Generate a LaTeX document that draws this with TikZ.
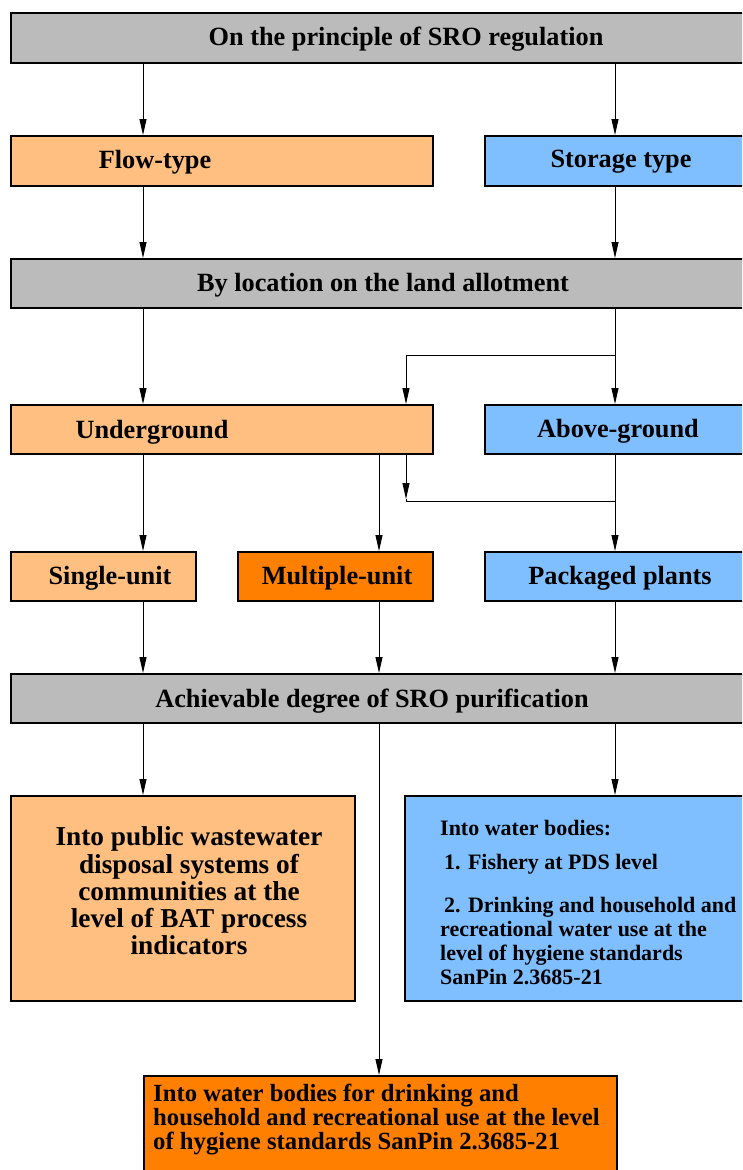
\documentclass[tikz,border=0pt]{standalone}
\usepackage{fontspec}
\setmainfont{Liberation Serif}
\usetikzlibrary{arrows.meta}
\definecolor{cgray}{HTML}{BBBBBB}
\definecolor{corl}{HTML}{FFBF80}
\definecolor{cblue}{HTML}{80BFFF}
\definecolor{cord}{HTML}{FF8000}
\tikzset{
  box/.style={draw=black, line width=2.2pt, inner sep=0pt, anchor=north west},
  arr/.style={line width=0.9pt, -{Triangle[length=16pt,width=7pt]}},
  ln/.style={line width=0.9pt},
  big/.style={font=\fontsize{26.3}{27}\selectfont\bfseries, inner sep=0pt},
  lft/.style={font=\fontsize{27.3}{27.3}\selectfont\bfseries, inner sep=0pt},
  mid/.style={font=\fontsize{22}{24}\selectfont\bfseries, inner sep=0pt},
  bot/.style={font=\fontsize{24.7}{24}\selectfont\bfseries, inner sep=0pt}
}
\begin{document}
\begin{tikzpicture}[x=1pt,y=-1pt]
\useasboundingbox (0,0) rectangle (742,1170);
\clip (0,0) rectangle (742,1170);
% column x positions
\coordinate (xa) at (143,0);
\coordinate (xb) at (379,0);
\coordinate (xc) at (615,0);
\coordinate (xd) at (406,0);
% boxes
\node[box, fill=cgray, minimum width=740pt, minimum height=50pt] (top) at (10,12) {};
\node[box, fill=corl, minimum width=422pt, minimum height=50pt] (flow) at (10,135) {};
\node[box, fill=cblue, minimum width=262pt, minimum height=50pt] (stor) at (484,135) {};
\node[box, fill=cgray, minimum width=740pt, minimum height=49pt] (loc) at (10,258) {};
\node[box, fill=corl, minimum width=422pt, minimum height=49pt] (ug) at (10,404) {};
\node[box, fill=cblue, minimum width=262pt, minimum height=49pt] (ag) at (484,404) {};
\node[box, fill=corl, minimum width=185pt, minimum height=49pt] (su) at (10,551) {};
\node[box, fill=cord, minimum width=195pt, minimum height=49pt] (mu) at (237,551) {};
\node[box, fill=cblue, minimum width=262pt, minimum height=49pt] (pp) at (484,551) {};
\node[box, fill=cgray, minimum width=740pt, minimum height=49pt] (ach) at (10,673) {};
\node[box, fill=corl, minimum width=344pt, minimum height=205pt] (pub) at (10,795) {};
\node[box, fill=cblue, minimum width=342pt, minimum height=205pt] (wb) at (404,795) {};
\node[box, fill=cord, minimum width=473pt, minimum height=110pt] (dr) at (143,1075) {};
% texts
\node[big] at (406,39) {On the principle of SRO regulation};
\node[big] at (155,162) {Flow-type};
\node[big] at (621,162) {Storage type};
\node[big] at (383,285) {By location on the land allotment};
\node[big] at (152,432) {Underground};
\node[big] at (618,431) {Above-ground};
\node[big] at (110,578) {Single-unit};
\node[big] at (337,578) {Multiple-unit};
\node[big] at (620,578) {Packaged plants};
\node[big] at (372,701) {Achievable degree of SRO purification};
\node[lft, align=center] at (189,891) {Into public wastewater\\disposal systems of\\communities at the\\level of BAT process\\indicators};
\node[mid, anchor=west] at (440,828) {Into water bodies:};
\node[mid, anchor=west] at (440,864) {\hspace{4pt}1. Fishery at PDS level};
\node[mid, align=left, anchor=west] at (440,941) {\hspace{4pt}2. Drinking and household and\\recreational water use at the\\level of hygiene standards\\SanPin 2.3685-21};
\node[bot, align=left, anchor=west] at (153,1120) {Into water bodies for drinking and\\household and recreational use at the level\\of hygiene standards SanPin 2.3685-21};
% connectors
\draw[arr] (top.south -| xa) -- (flow.north -| xa);
\draw[arr] (top.south -| xc) -- (stor.north -| xc);
\draw[arr] (flow.south -| xa) -- (loc.north -| xa);
\draw[arr] (stor.south -| xc) -- (loc.north -| xc);
\draw[arr] (loc.south -| xa) -- (ug.north -| xa);
\draw[arr] (loc.south -| xc) -- (ag.north -| xc);
\coordinate (j1) at (615,355);
\draw[arr] (j1) -| (ug.north -| xd);
\draw[arr] (ug.south -| xa) -- (su.north -| xa);
\draw[arr] (ug.south -| xb) -- (mu.north -| xb);
\draw[arr] (ag.south -| xc) -- (pp.north -| xc);
\coordinate (j2a) at (406,499);
\coordinate (j2) at (406,501);
\coordinate (j3) at (615,501);
\draw[arr] (ug.south -| xd) -- (j2a);
\draw[ln] (j2a) -- (j2) -- (j3);
\draw[arr] (su.south -| xa) -- (ach.north -| xa);
\draw[arr] (mu.south -| xb) -- (ach.north -| xb);
\draw[arr] (pp.south -| xc) -- (ach.north -| xc);
\draw[arr] (ach.south -| xa) -- (pub.north -| xa);
\draw[arr] (ach.south -| xc) -- (wb.north -| xc);
\draw[arr] (ach.south -| xb) -- (dr.north -| xb);
\end{tikzpicture}
\end{document}
